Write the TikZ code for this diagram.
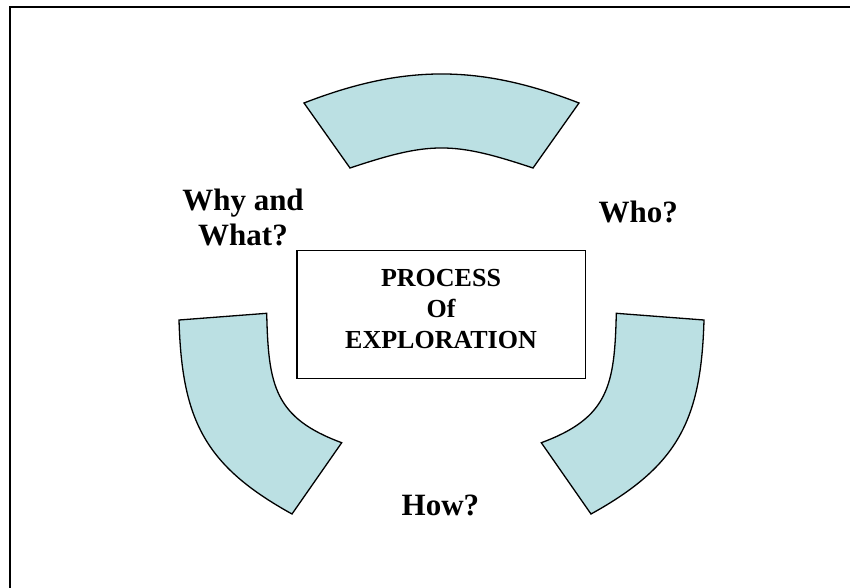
\documentclass[tikz,border=0pt]{standalone}
\usepackage{fontspec}
\setmainfont{Liberation Serif}
\definecolor{arcfill}{HTML}{BBE0E3}
\begin{document}
\begin{tikzpicture}[x=1pt,y=-1pt,
  blockarc/.style={fill=arcfill,draw=black,line width=1.3pt,line join=miter},
  procbox/.style={draw=black,line width=1.4pt,fill=white,minimum width=288.5pt,minimum height=128.3pt,inner sep=0pt},
  proctext/.style={font=\fontsize{26}{31}\selectfont\bfseries,align=center,inner sep=0pt},
  qlabel/.style={font=\fontsize{31}{35}\selectfont\bfseries,align=center,inner sep=0pt}]
\useasboundingbox (0,0) rectangle (850,588);
% frame
\coordinate (fbl) at (10,600);
\coordinate (ftl) at (10,7.5);
\coordinate (ftr) at (860,7.5);
\draw[line width=2pt] (fbl) -- (ftl) -- (ftr);
% top block arc
\draw[blockarc] (304,103) .. controls (403.5,64.3) and (479.5,64.3) .. (579,103)
  -- (533,168) .. controls (453,141.3) and (430,141.3) .. (350,168) -- cycle;
% left block arc
\draw[blockarc] (179,320) .. controls (181.9,420) and (204.5,465.6) .. (292,514)
  -- (341.7,442.7) .. controls (274.2,417.8) and (268.4,385.3) .. (266.7,313.3) -- cycle;
% right block arc
\draw[blockarc] (704,320) .. controls (701.1,420) and (678.5,465.6) .. (591,514)
  -- (541.3,442.7) .. controls (608.8,417.8) and (614.6,385.3) .. (616.3,313.3) -- cycle;
% centre box
\node[procbox] (box) at (441.25,314.6) {};
\node[proctext] (boxtext) at (441,309.5) {PROCESS\\Of\\EXPLORATION};
% labels
\node[qlabel] (why) at (243,217.5) {Why and\\What?};
\node[qlabel,anchor=base] (who) at (638.3,222) {Who?};
\node[qlabel,anchor=base] (how) at (440.4,515.6) {How?};
\end{tikzpicture}
\end{document}
